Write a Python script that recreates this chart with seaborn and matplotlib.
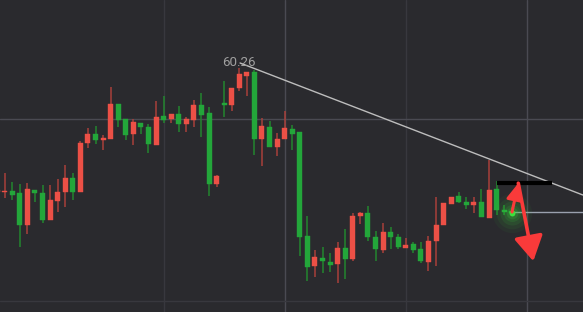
import numpy as np
import pandas as pd
import matplotlib
matplotlib.use("Agg")
import matplotlib.pyplot as plt
import seaborn as sns

# ---- data ----
open_ = [54.06, 54.04, 54.11, 54.01, 52.41, 54.16, 54.01, 52.66, 53.61, 54.06,
         54.76, 54.06, 56.51, 56.96, 56.66, 56.71, 58.46, 57.71, 56.96, 57.51,
         57.31, 56.41, 57.86, 57.71, 57.96, 57.46, 57.66, 58.41, 58.01, 54.46,
         58.51, 58.41, 59.26, 59.86, 60.06, 56.71, 57.31, 56.31, 56.71, 57.21,
         57.06, 51.86, 50.36, 50.76, 50.56, 50.46, 51.26, 50.71, 52.86, 53.01,
         51.81, 51.16, 52.06, 51.81, 51.26, 51.46, 51.21, 50.56, 51.61, 52.41,
         53.46, 53.86, 53.56, 53.41, 53.56, 52.76, 54.21, 53.16, 53.11]
high = [54.26, 55.01, 54.56, 54.46, 54.51, 54.16, 54.41, 54.41, 54.71, 55.41,
        55.01, 56.61, 57.26, 57.36, 56.91, 59.31, 58.46, 57.71, 57.71, 57.51,
        57.46, 58.61, 58.86, 57.96, 58.36, 57.81, 58.66, 59.01, 58.31, 54.91,
        59.61, 59.26, 60.26, 60.06, 60.16, 57.76, 57.61, 57.01, 58.11, 57.41,
        57.06, 52.86, 51.16, 51.31, 51.01, 51.56, 52.21, 53.01, 53.06, 53.36,
        52.11, 52.51, 52.31, 51.96, 51.76, 51.56, 51.56, 51.86, 53.81, 53.51,
        53.81, 54.06, 53.81, 53.81, 54.21, 55.66, 54.61, 53.41, 53.31]
low = [53.86, 53.76, 53.66, 51.31, 51.96, 53.56, 52.51, 52.66, 53.06, 53.31,
       53.66, 54.06, 56.26, 56.46, 56.16, 56.71, 57.31, 56.66, 56.41, 56.96,
       56.01, 56.41, 57.51, 57.51, 57.06, 57.06, 57.31, 56.81, 53.86, 54.31,
       57.81, 58.11, 59.11, 58.86, 55.91, 55.36, 56.31, 55.86, 56.71, 56.16,
       50.86, 49.61, 49.81, 50.01, 50.06, 49.51, 49.71, 50.61, 52.46, 51.61,
       50.61, 51.01, 51.21, 51.21, 51.26, 51.01, 50.51, 50.11, 50.36, 52.41,
       53.46, 53.51, 53.21, 53.01, 52.81, 52.76, 52.91, 52.91, 52.91]
close = [54.08, 54.08, 53.91, 52.41, 54.21, 54.01, 52.66, 53.66, 54.06, 54.76,
         54.06, 56.51, 56.96, 56.66, 56.76, 58.46, 57.66, 56.91, 57.56, 57.31,
         56.46, 57.81, 57.66, 57.96, 57.46, 57.71, 58.41, 57.91, 54.46, 54.86,
         58.41, 59.26, 59.96, 60.06, 56.71, 57.36, 56.31, 56.71, 57.26, 56.96,
         51.81, 50.31, 50.81, 50.61, 50.41, 51.26, 50.71, 52.86, 53.01, 51.81,
         51.21, 52.06, 51.81, 51.31, 51.41, 51.16, 50.61, 51.61, 52.41, 53.51,
         53.81, 53.56, 53.41, 53.56, 52.81, 54.16, 53.16, 53.06, 53.01]

peak_label = "60.26"
peak_index = 32
trend_x = [32.1, 77.4]
trend_y = [60.51, 53.91]
target_x = [66.06, 73.33]
target_y = [54.51, 54.51]
path_x = [68.04, 68.87, 70.85]
path_y = [53.06, 54.50, 50.60]

df = pd.DataFrame({"i": np.arange(len(open_)), "open": open_, "high": high,
                   "low": low, "close": close})
df["up"] = df["close"] >= df["open"]

BG = "#2a2a2e"
RED = "#ec5046"
RED_WICK = "#a8403b"
GREEN = "#23a63a"
GREEN_WICK = "#23862f"

sns.set_theme(style="dark", rc={"axes.facecolor": BG, "figure.facecolor": BG})

fig = plt.figure(figsize=(5.83, 3.12), dpi=100)
ax = fig.add_axes([0, 0, 1, 1])
ax.set_facecolor(BG)

# grid lines
for xv, c in [(22, "#38383e"), (38, "#4a4a52"), (54, "#38383e"), (70, "#4a4a52")]:
    ax.axvline(xv, color=c, lw=1, zorder=0)
ax.axhline(57.71, color="#4a4a52", lw=1, zorder=0)
ax.axhline(48.61, color="#38383e", lw=1, zorder=0)

# candles
wick_colors = np.where(df["up"], RED_WICK, GREEN_WICK)
body_colors = np.where(df["up"], RED, GREEN)
ax.vlines(df["i"], df["low"], df["high"], colors=wick_colors, lw=1.1, zorder=2)
bottom = np.minimum(df["open"], df["close"])
height = np.maximum(np.abs(df["close"] - df["open"]), 0.09)
ax.bar(df["i"], height, bottom=bottom, width=0.66, color=body_colors,
       edgecolor=body_colors, linewidth=0.3, zorder=3)

# trend line
sns.lineplot(x=trend_x, y=trend_y, ax=ax, color="#bdbdbd", lw=1.0, zorder=4)

# peak label
ax.annotate(peak_label, xy=(peak_index, df["high"][peak_index]), xytext=(-0.5, -0.5),
            textcoords="offset points", ha="center", va="bottom",
            color="#a0a0a0", fontsize=9.6, family=["Roboto", "DejaVu Sans"], zorder=5)

# last price line
last = len(df) - 1
ax.hlines(df["close"][last] + 0.03, last, 80, color="#9aa0ae", lw=1, zorder=1)

# target line
ax.plot(target_x, target_y, color="#000000", lw=3, solid_capstyle="butt", zorder=5)

# glow at last price
for s, a in [(800, 0.05), (520, 0.07), (300, 0.10), (150, 0.13), (70, 0.2)]:
    ax.scatter([last], [df["close"][last]], s=s, color="#39d23b", alpha=a,
               linewidths=0, zorder=6)
ax.scatter([last], [df["close"][last]], s=18, color="#3de03d", linewidths=0, zorder=7)

# arrows
ARROW = "#f93a3a"
ax.annotate("", xy=(path_x[1], path_y[1]), xytext=(path_x[0], path_y[0]),
            arrowprops=dict(arrowstyle="-|>,head_length=0.7,head_width=0.35",
                            color=ARROW, lw=2.2, mutation_scale=14,
                            shrinkA=0, shrinkB=0), zorder=8)
ax.annotate("", xy=(path_x[2], path_y[2]), xytext=(path_x[1], path_y[1]),
            arrowprops=dict(arrowstyle="-|>,head_length=0.95,head_width=0.55",
                            color=ARROW, lw=2.6, mutation_scale=16,
                            shrinkA=0, shrinkB=0), zorder=8)

ax.set_xlim(0.379, 77.42)
ax.set_ylim(48.06, 63.66)
ax.set_xticks([])
ax.set_yticks([])
ax.set_xlabel("")
ax.set_ylabel("")
for sp in ax.spines.values():
    sp.set_visible(False)
if ax.get_legend() is not None:
    ax.get_legend().remove()

fig.savefig("out.png", dpi=100, facecolor=BG)
